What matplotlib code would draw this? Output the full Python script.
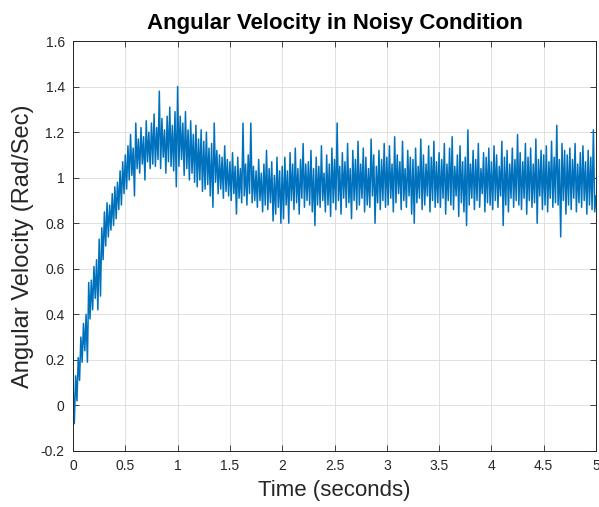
import numpy as np
import matplotlib.pyplot as plt

# angular velocity samples, one every 0.0125 s from 0 to 5 s
omega = [
    0.10, -0.08, 0.13, 0.02, 0.21, 0.11, 0.30, 0.19, 0.36, 0.24, 0.40, 0.19, 0.54, 0.38, 0.55, 0.42, 0.61, 0.47, 0.64, 0.42,
    0.73, 0.48, 0.78, 0.64, 0.85, 0.70, 0.89, 0.74, 0.88, 0.77, 0.93, 0.79, 0.96, 0.82, 0.98, 0.86, 1.03, 0.88, 1.07, 0.93,
    1.10, 0.95, 1.14, 0.99, 1.19, 1.01, 1.13, 0.92, 1.24, 1.04, 1.17, 1.02, 1.22, 1.06, 1.18, 0.99, 1.25, 1.07, 1.20, 1.04,
    1.24, 1.06, 1.28, 1.05, 1.22, 1.08, 1.38, 1.04, 1.26, 1.09, 1.21, 1.02, 1.27, 1.07, 1.31, 1.05, 1.23, 1.03, 1.29, 0.96,
    1.40, 1.05, 1.27, 1.08, 1.24, 1.01, 1.29, 1.04, 1.21, 0.99, 1.25, 1.02, 1.19, 0.98, 1.23, 0.96, 1.17, 0.99, 1.21, 0.94,
    1.16, 0.95, 1.20, 0.97, 1.13, 0.92, 1.15, 0.87, 1.24, 0.98, 1.12, 0.93, 1.10, 0.95, 1.09, 0.91, 1.14, 0.94, 1.08, 0.92,
    1.07, 0.90, 1.11, 0.93, 1.05, 0.84, 1.09, 0.91, 1.04, 0.89, 1.24, 0.92, 1.06, 0.88, 1.10, 0.93, 1.24, 0.89, 1.05, 0.90,
    1.03, 0.87, 1.08, 0.90, 1.02, 0.85, 1.06, 0.88, 1.12, 0.86, 1.04, 0.89, 1.07, 0.81, 1.01, 0.84, 1.09, 0.87, 1.03, 0.80,
    1.05, 0.82, 1.09, 0.88, 1.03, 0.80, 1.11, 0.90, 1.06, 0.86, 1.13, 0.89, 1.04, 0.84, 1.08, 0.91, 1.15, 0.87, 1.06, 0.90,
    1.07, 0.88, 1.12, 0.85, 1.04, 0.79, 1.09, 0.88, 1.05, 0.87, 1.14, 0.90, 1.02, 0.85, 1.10, 0.88, 1.06, 0.83, 1.13, 0.89,
    1.08, 0.86, 1.24, 0.90, 1.05, 0.84, 1.11, 0.91, 1.07, 0.87, 1.15, 0.89, 1.04, 0.82, 1.12, 0.90, 1.08, 0.86, 1.16, 0.88,
    1.06, 0.91, 1.13, 0.85, 1.09, 0.88, 1.04, 0.87, 1.17, 0.92, 1.10, 0.80, 1.05, 0.89, 1.12, 0.86, 1.08, 0.90, 1.15, 0.87,
    1.09, 0.88, 1.14, 0.91, 1.06, 0.85, 1.18, 0.89, 1.10, 0.93, 1.07, 0.86, 1.16, 0.90, 1.04, 0.87, 1.12, 0.92, 1.09, 0.84,
    1.08, 0.80, 1.13, 0.89, 1.05, 0.91, 1.17, 0.86, 1.10, 0.88, 1.06, 0.92, 1.14, 0.85, 1.09, 0.90, 1.16, 0.87, 1.07, 0.89,
    1.11, 0.87, 1.08, 0.91, 1.15, 0.84, 1.06, 0.90, 1.13, 0.88, 1.18, 0.86, 1.05, 0.92, 1.10, 0.83, 1.14, 0.89, 1.07, 0.85,
    1.09, 0.79, 1.21, 0.88, 1.06, 0.91, 1.12, 0.86, 1.08, 0.90, 1.15, 0.87, 1.04, 0.93, 1.11, 0.85, 1.09, 0.89, 1.13, 0.88,
    1.07, 0.86, 1.14, 0.90, 1.10, 0.87, 1.05, 0.92, 1.16, 0.79, 1.09, 0.88, 1.12, 0.85, 1.06, 0.91, 1.13, 0.87, 1.08, 0.90,
    1.19, 0.88, 1.11, 0.86, 1.07, 0.91, 1.15, 0.84, 1.09, 0.90, 1.13, 0.87, 1.06, 0.89, 1.17, 0.80, 1.08, 0.92, 1.12, 0.86,
    1.10, 0.88, 1.14, 0.85, 1.07, 0.91, 1.16, 0.87, 1.09, 0.89, 1.23, 0.88, 1.08, 0.74, 1.15, 0.90, 1.12, 0.84, 1.10, 0.88,
    1.13, 0.86, 1.08, 0.91, 1.15, 0.85, 1.06, 0.89, 1.11, 0.87, 1.14, 0.90, 1.07, 0.84, 1.12, 0.88, 1.09, 0.86, 1.21, 0.85,
    0.92,
]
t = np.linspace(0, 5, len(omega))

x_ticks = [0, 0.5, 1, 1.5, 2, 2.5, 3, 3.5, 4, 4.5, 5]
y_ticks = [-0.2, 0, 0.2, 0.4, 0.6, 0.8, 1.0, 1.2, 1.4, 1.6]

plt.rcParams["font.family"] = ["Liberation Sans", "DejaVu Sans"]
dark = "#262626"

fig = plt.figure(figsize=(5.99, 5.07), dpi=100)
ax = fig.add_axes([0.1219, 0.1105, 0.8731, 0.8085])

ax.plot(t, omega, color="#0072BD", linewidth=1.1)

ax.set_xlim(0, 5)
ax.set_ylim(-0.2, 1.6)
ax.set_xticks(x_ticks)
ax.set_xticklabels([f"{v:g}" for v in x_ticks])
ax.set_yticks(y_ticks)
ax.set_yticklabels([f"{v:g}" for v in y_ticks])

ax.grid(True, color="#dcdcdc", linewidth=0.6)
ax.set_axisbelow(True)
ax.tick_params(direction="in", top=True, right=True, length=4, width=0.6,
               labelsize=10, colors=dark, pad=6)
for s in ax.spines.values():
    s.set_color(dark)
    s.set_linewidth(0.7)

ax.set_title("Angular Velocity in Noisy Condition", fontsize=16, fontweight="bold",
             color="black", pad=9)
ax.set_xlabel("Time (seconds)", fontsize=16, color=dark, labelpad=5)
ax.set_ylabel("Angular Velocity (Rad/Sec)", fontsize=17, color=dark, labelpad=5)

fig.savefig("out.png", dpi=100)
